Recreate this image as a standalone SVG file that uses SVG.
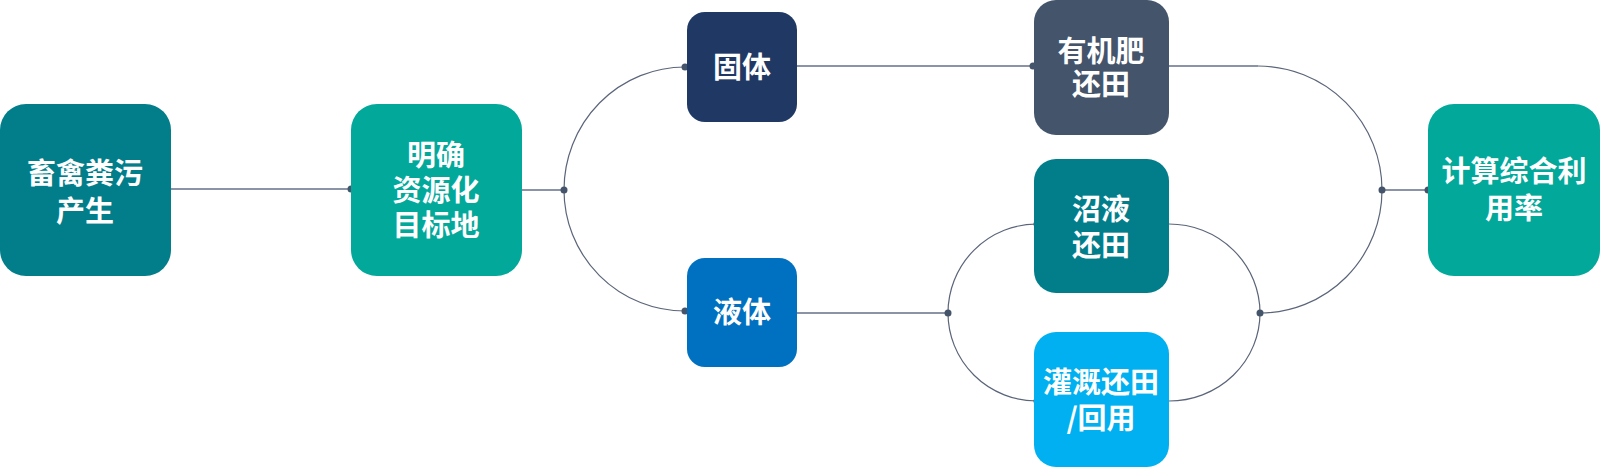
<svg xmlns="http://www.w3.org/2000/svg" width="1600" height="467" viewBox="0 0 1600 467">
<style>
.t{font-family:"Noto Sans CJK SC","Noto Sans",sans-serif;font-weight:700;font-size:29px;fill:#fff;text-anchor:middle}
.h{fill:none;stroke:#8A94A6;stroke-width:2}
.a{fill:none;stroke:#5B6579;stroke-width:1.2}
.d{fill:#44546A}
</style>
<rect width="1600" height="467" fill="#fff"/>
<g id="connectors">
<path class="h" d="M171,189 H351"/>
<path class="h" d="M522,190 H564"/>
<path class="a" d="M564,190 A121,123 0 0 1 685,67"/>
<path class="a" d="M564,190 A121,121 0 0 0 685,311"/>
<path class="h" d="M797,66 H1033"/>
<path class="h" d="M797,313 H948"/>
<path class="a" d="M948,313 A89,89 0 0 1 1037,224"/>
<path class="a" d="M948,313 A89,88 0 0 0 1037,401"/>
<path class="a" d="M1169,224 A91,89 0 0 1 1260,313"/>
<path class="a" d="M1169,401 A91,88 0 0 0 1260,313"/>
<path class="h" d="M1169,66 H1258"/>
<path class="a" d="M1258,66 A124,124 0 0 1 1382,190"/>
<path class="a" d="M1260,313 A122,123 0 0 0 1382,190"/>
<path class="h" d="M1382,190 H1428"/>
<circle class="d" cx="351" cy="189" r="3.5"/>
<circle class="d" cx="564" cy="190" r="3.5"/>
<circle class="d" cx="685" cy="67" r="3.5"/>
<circle class="d" cx="685" cy="311" r="3.5"/>
<circle class="d" cx="1033" cy="66" r="3.5"/>
<circle class="d" cx="948" cy="313" r="3.5"/>
<circle class="d" cx="1037" cy="224" r="3.5"/>
<circle class="d" cx="1037" cy="401" r="3.5"/>
<circle class="d" cx="1260" cy="313" r="3.5"/>
<circle class="d" cx="1382" cy="190" r="3.5"/>
<circle class="d" cx="1428" cy="190" r="3.5"/>
</g>
<g id="n1">
<rect x="0" y="104" width="171" height="172" rx="26" fill="#027E8B"/>
<text class="t" x="85" y="184">畜禽粪污<tspan x="85" dy="38">产生</tspan></text>
</g>
<g id="n2">
<rect x="351" y="104" width="171" height="172" rx="26" fill="#02A89A"/>
<text class="t" x="436" y="166">明确<tspan x="436" dy="35">资源化</tspan><tspan x="436" dy="35">目标地</tspan></text>
</g>
<g id="n3">
<rect x="687" y="12" width="110" height="110" rx="18" fill="#203864"/>
<text class="t" x="742" y="78">固体</text>
</g>
<g id="n4">
<rect x="687" y="258" width="110" height="109" rx="18" fill="#0070C0"/>
<text class="t" x="742" y="323">液体</text>
</g>
<g id="n5">
<rect x="1034" y="0" width="135" height="135" rx="22" fill="#44546A"/>
<text class="t" x="1101" y="62">有机肥<tspan x="1101" dy="33">还田</tspan></text>
</g>
<g id="n6">
<rect x="1034" y="159" width="135" height="134" rx="22" fill="#027E8B"/>
<text class="t" x="1101" y="220">沼液<tspan x="1101" dy="36">还田</tspan></text>
</g>
<g id="n7">
<rect x="1034" y="332" width="135" height="135" rx="22" fill="#00B0F0"/>
<text class="t" x="1101" y="393">灌溉还田<tspan x="1101" dy="36">/回用</tspan></text>
</g>
<g id="n8">
<rect x="1428" y="104" width="172" height="172" rx="26" fill="#02A89A"/>
<text class="t" x="1514" y="182">计算综合利<tspan x="1514" dy="37">用率</tspan></text>
</g>
</svg>
